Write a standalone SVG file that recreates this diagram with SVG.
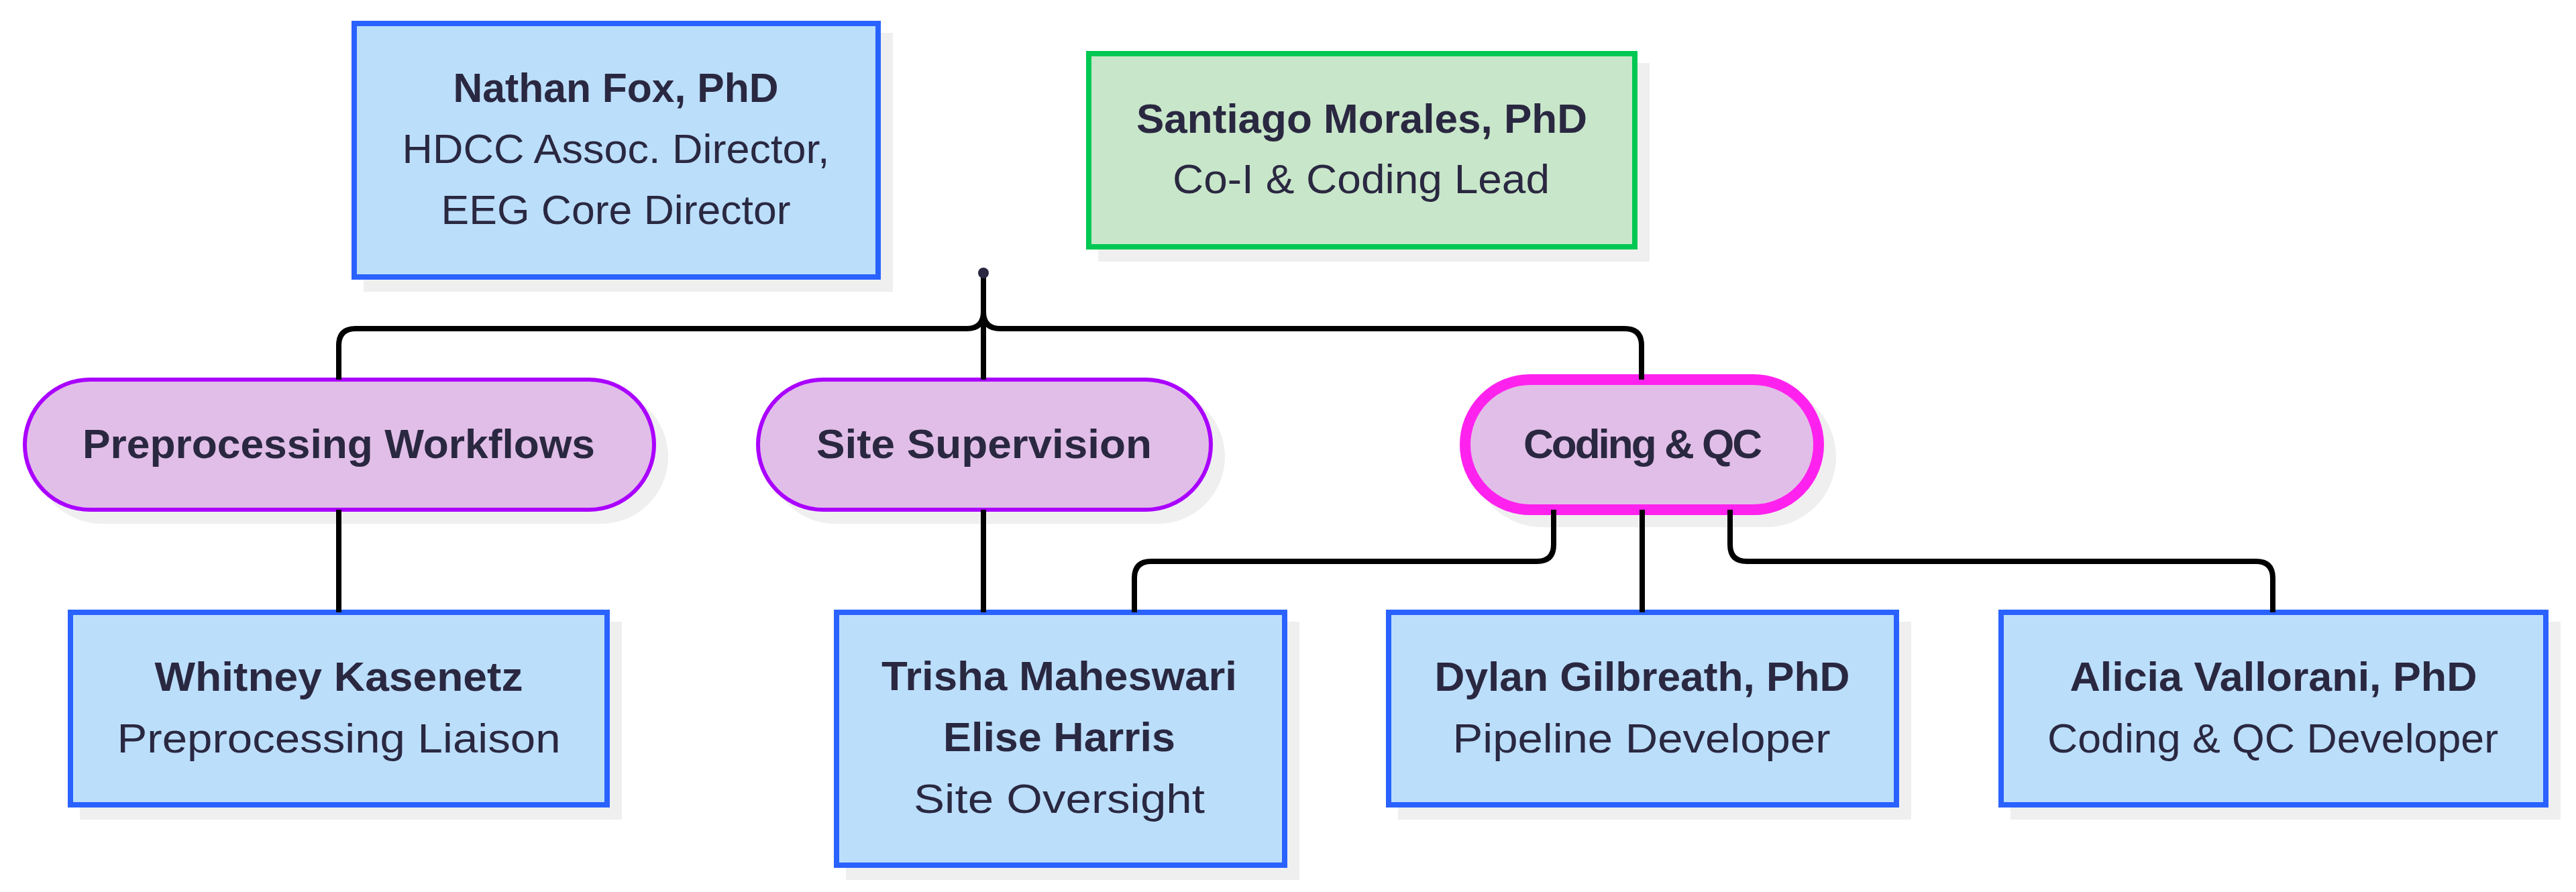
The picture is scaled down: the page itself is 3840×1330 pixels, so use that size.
<svg xmlns="http://www.w3.org/2000/svg" width="3840" height="1330" viewBox="0 0 3840 1330">
<style>
  text { font-family: "Liberation Sans", Arial, sans-serif; font-size: 62px; fill: #2a2841; text-anchor: middle; }
  .b { font-weight: bold; }
  .person { fill: #bbdefb; stroke: #2962ff; stroke-width: 8; }
  .lead { fill: #c8e6c9; stroke: #00c853; stroke-width: 8; }
  .area { fill: #e1bee7; stroke: #aa00ff; stroke-width: 6; }
  .focus { fill: #e1bee7; stroke: #ff22ee; stroke-width: 16; }
  .sh8 { fill: #efefef; stroke: #efefef; stroke-width: 8; }
  .sh6 { fill: #efefef; stroke: #efefef; stroke-width: 6; }
  .sh16 { fill: #efefef; stroke: #efefef; stroke-width: 16; }
  .edge { fill: none; stroke: #000000; stroke-width: 8; }
</style>
<rect width="3840" height="1330" fill="#ffffff"/>

<g id="nathan">
  <rect class="sh8" x="546" y="53" width="781" height="378"/>
  <rect class="person" x="528" y="35" width="781" height="378"/>
  <text class="b" x="918" y="152" textLength="485" lengthAdjust="spacingAndGlyphs">Nathan Fox, PhD</text>
  <text x="918" y="243" textLength="637" lengthAdjust="spacingAndGlyphs">HDCC Assoc. Director,</text>
  <text x="918" y="334" textLength="521" lengthAdjust="spacingAndGlyphs">EEG Core Director</text>
</g>

<g id="santiago">
  <rect class="sh8" x="1641" y="98" width="814" height="288"/>
  <rect class="lead" x="1623" y="80" width="814" height="288"/>
  <text class="b" x="2030" y="198" textLength="672" lengthAdjust="spacingAndGlyphs">Santiago Morales, PhD</text>
  <text x="2029" y="288" textLength="562" lengthAdjust="spacingAndGlyphs">Co-I &amp; Coding Lead</text>
</g>

<g id="preprocessing">
  <rect class="sh6" x="55" y="584" width="938" height="194" rx="97" ry="97"/>
  <rect class="area" x="37" y="566" width="938" height="194" rx="97" ry="97"/>
  <text class="b" x="505" y="683" textLength="764" lengthAdjust="spacingAndGlyphs">Preprocessing Workflows</text>
</g>

<g id="site">
  <rect class="sh6" x="1148" y="584" width="675" height="194" rx="97" ry="97"/>
  <rect class="area" x="1130" y="566" width="675" height="194" rx="97" ry="97"/>
  <text class="b" x="1467" y="683" textLength="500" lengthAdjust="spacingAndGlyphs">Site Supervision</text>
</g>

<g id="coding">
  <rect class="sh16" x="2202" y="584" width="527" height="194" rx="97" ry="97"/>
  <rect class="focus" x="2184" y="566" width="527" height="194" rx="97" ry="97"/>
  <text class="b" x="2449" y="683" textLength="356" lengthAdjust="spacing">Coding &amp; QC</text>
</g>

<g id="whitney">
  <rect class="sh8" x="123" y="931" width="800" height="287"/>
  <rect class="person" x="105" y="913" width="800" height="287"/>
  <text class="b" x="505" y="1030" textLength="549" lengthAdjust="spacingAndGlyphs">Whitney Kasenetz</text>
  <text x="505" y="1122" textLength="661" lengthAdjust="spacingAndGlyphs">Preprocessing Liaison</text>
</g>

<g id="trisha">
  <rect class="sh8" x="1265" y="931" width="668" height="377"/>
  <rect class="person" x="1247" y="913" width="668" height="377"/>
  <text class="b" x="1579" y="1029" textLength="530" lengthAdjust="spacingAndGlyphs">Trisha Maheswari</text>
  <text class="b" x="1579" y="1120" textLength="346" lengthAdjust="spacingAndGlyphs">Elise Harris</text>
  <text x="1579" y="1212" textLength="434" lengthAdjust="spacingAndGlyphs">Site Oversight</text>
</g>

<g id="dylan">
  <rect class="sh8" x="2088" y="931" width="757" height="287"/>
  <rect class="person" x="2070" y="913" width="757" height="287"/>
  <text class="b" x="2448" y="1030" textLength="619" lengthAdjust="spacingAndGlyphs">Dylan Gilbreath, PhD</text>
  <text x="2447" y="1122" textLength="563" lengthAdjust="spacingAndGlyphs">Pipeline Developer</text>
</g>

<g id="alicia">
  <rect class="sh8" x="3001" y="931" width="812" height="287"/>
  <rect class="person" x="2983" y="913" width="812" height="287"/>
  <text class="b" x="3389" y="1030" textLength="607" lengthAdjust="spacingAndGlyphs">Alicia Vallorani, PhD</text>
  <text x="3388" y="1122" textLength="672" lengthAdjust="spacingAndGlyphs">Coding &amp; QC Developer</text>
</g>

<g id="connectors">
  <path class="edge" d="M1466,407 L1466,465 Q1466,490 1441,490 L530,490 Q505,490 505,515 L505,566"/>
  <path class="edge" d="M1466,407 L1466,566"/>
  <path class="edge" d="M1466,407 L1466,465 Q1466,490 1491,490 L2422,490 Q2447,490 2447,515 L2447,566"/>
  <path class="edge" d="M505,760 L505,913"/>
  <path class="edge" d="M1466,760 L1466,913"/>
  <path class="edge" d="M2316,760 L2316,812 Q2316,837 2291,837 L1716,837 Q1691,837 1691,862 L1691,913"/>
  <path class="edge" d="M2448,760 L2448,913"/>
  <path class="edge" d="M2579,760 L2579,812 Q2579,837 2604,837 L3363,837 Q3388,837 3388,862 L3388,913"/>
  <circle cx="1466" cy="407" r="8" fill="#2a2841"/>
</g>
</svg>
